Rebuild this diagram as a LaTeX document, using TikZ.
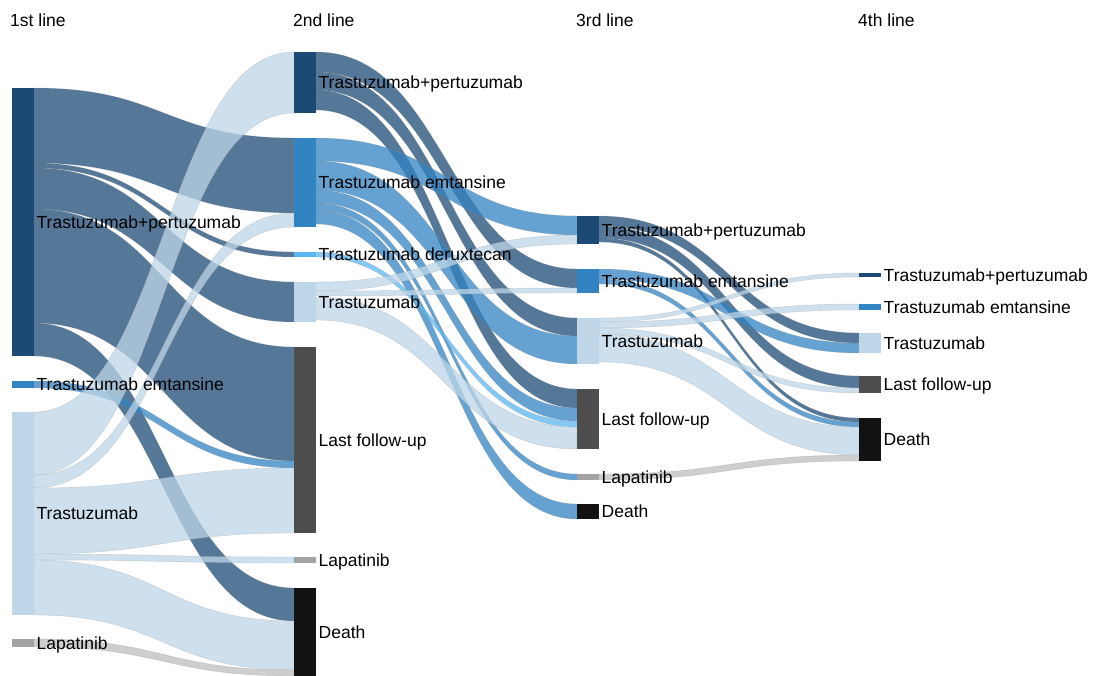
\documentclass[tikz,border=0pt]{standalone}
\usepackage{fontspec}
\setmainfont{Liberation Sans}
\usetikzlibrary{calc,backgrounds}
\definecolor{cTP}{HTML}{1C4A75}
\definecolor{cTE}{HTML}{3283C1}
\definecolor{cTD}{HTML}{5BB6F3}
\definecolor{cT}{HTML}{BED6E7}
\definecolor{cLap}{HTML}{A3A3A3}
\definecolor{cLapF}{HTML}{BDBDBD}
\definecolor{cLFU}{HTML}{4D4D4D}
\definecolor{cDeath}{HTML}{121212}
\begin{document}
\begin{tikzpicture}[x=1pt,y=-1pt,line join=round,line cap=round,
    font=\fontsize{17.5}{21}\selectfont,
    bar/.style={rectangle,inner sep=0pt,outer sep=0pt,minimum width=22pt},
    lab/.style={anchor=west,inner sep=2.5pt,text height=12.5pt,text depth=0pt},
    flow/.style={fill opacity=0.75,draw=black!45,draw opacity=0.35,line width=0.4pt}]
\useasboundingbox (0,0) rectangle (1093,676);
\foreach \n/\x in {1st/10,2nd/293,3rd/576,4th/858}
  \node[anchor=west,inner sep=0pt] (h\n) at (\x,20) {\n\ line};
% treatment lines
\foreach \n/\x/\y/\h/\col/\l in {
  a1/23/222/268/cTP/Trastuzumab+pertuzumab,
  a2/23/384.5/7/cTE/Trastuzumab emtansine,
  a3/23/513.5/203/cT/Trastuzumab,
  a4/23/643/8/cLap/Lapatinib,
  b1/305/82.5/61/cTP/Trastuzumab+pertuzumab,
  b2/305/182.5/89/cTE/Trastuzumab emtansine,
  b3/305/254.5/5/cTD/Trastuzumab deruxtecan,
  b4/305/302/40/cT/Trastuzumab,
  b5/305/440/186/cLFU/Last follow-up,
  b6/305/560/6/cLap/Lapatinib,
  b7/305/632/88/cDeath/Death,
  c1/588/230/28/cTP/Trastuzumab+pertuzumab,
  c2/588/281/24/cTE/Trastuzumab emtansine,
  c3/588/341/46/cT/Trastuzumab,
  c4/588/419/60/cLFU/Last follow-up,
  c5/588/477/6/cLap/Lapatinib,
  c6/588/511.5/15/cDeath/Death,
  d1/870/275/4/cTP/Trastuzumab+pertuzumab,
  d2/870/307/6/cTE/Trastuzumab emtansine,
  d3/870/343/20/cT/Trastuzumab,
  d4/870/384.5/17/cLFU/Last follow-up,
  d5/870/439.5/43/cDeath/Death}{
  \node[bar,fill=\col,minimum height=\h pt] (\n) at (\x,\y) {};
  \node[lab] (\n l) at (\n.east) {\l};
}
% flows: source/top/bottom/target/top/bottom/colour
\begin{pgfonlayer}{background}
\foreach \src/\sa/\sb/\tgt/\ta/\tb/\col in {
  a1/0/75/b2/0/75/cTP, a1/75/80/b3/0/5/cTP, a1/80/121/b4/0/40/cTP,
  a1/121/235/b5/0/114/cTP, a1/235/268/b7/0/33/cTP,
  a2/0/7/b5/114/121/cTE,
  a3/0/63/b1/0/61/cT, a3/63/76/b2/75/89/cT, a3/76/142/b5/121/186/cT,
  a3/142/148/b6/0/6/cT, a3/148/203/b7/33/82/cT,
  a4/0/8/b7/82/88/cLapF,
  b1/0/20/c2/0/19/cTP, b1/20/38/c3/0/18/cTP, b1/38/58/c4/0/19/cTP,
  b2/0/23/c1/0/19/cTE, b2/23/52/c3/18/46/cTE, b2/52/65/c4/19/32/cTE,
  b2/65/72/c5/0/6/cTE, b2/72/86/c6/0/15/cTE,
  b3/0/5/c4/32/38/cTD,
  b4/0/9/c1/19/28/cT, b4/9/14/c2/19/24/cT, b4/15/38/c4/38/60/cT,
  c1/0/10/d3/0/10/cTP, c1/10/22/d4/0/12/cTP, c1/22/26/d5/0/4/cTP,
  c2/0/10/d3/10/20/cTE, c2/10/15/d5/4/9/cTE,
  c3/0/4/d1/0/4/cT, c3/4/10/d2/0/6/cT, c3/10/16/d4/12/17/cT, c3/16/44/d5/9/37/cT,
  c5/0/6/d5/37/43/cLapF}{
  \path ($(\src.north east)+(0,\sa)$) coordinate (p1)
        ($(\src.north east)+(0,\sb)$) coordinate (p2)
        ($(\tgt.north west)+(0,\ta)$) coordinate (q1)
        ($(\tgt.north west)+(0,\tb)$) coordinate (q2)
        ($(p1)!.5!(q1)$) coordinate (m);
  \filldraw[flow,fill=\col] (p1) .. controls (m|-p1) and (m|-q1) .. (q1) -- (q2)
    .. controls (m|-q2) and (m|-p2) .. (p2) -- cycle;
}
\end{pgfonlayer}
\end{tikzpicture}
\end{document}
